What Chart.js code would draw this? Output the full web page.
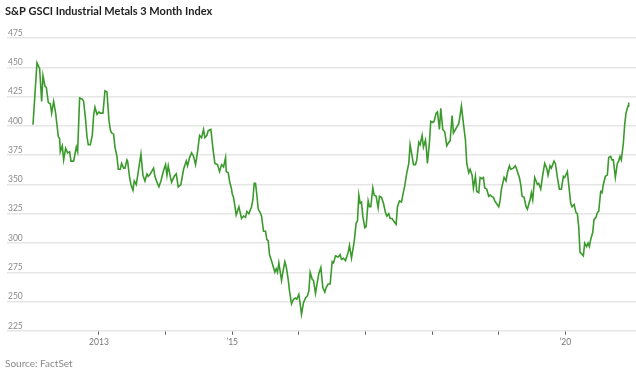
<!DOCTYPE html>
<html lang="en">
<head>
    <meta charset="UTF-8">
    <title>S&amp;P GSCI Industrial Metals 3 Month Index</title>
    <style>
        body {
            margin: 0;
            padding: 0;
            background-color: #fff;
        }
    </style>
    <script src="https://cdn.jsdelivr.net/npm/chart.js"></script>
</head>
<body>
    <canvas id="metalsChart" width="636" height="374"></canvas>

    <script>
        // dates as fractional years
        const years = [
            2012.01, 2012.07, 2012.11, 2012.14, 2012.16, 2012.19, 2012.21, 2012.24, 2012.27, 2012.29,
            2012.32, 2012.35, 2012.39, 2012.41, 2012.42, 2012.45, 2012.47, 2012.50, 2012.53, 2012.56,
            2012.58, 2012.62, 2012.66, 2012.68, 2012.71, 2012.75, 2012.77, 2012.80, 2012.82, 2012.84,
            2012.87, 2012.90, 2012.92, 2012.94, 2012.97, 2013.00, 2013.02, 2013.06, 2013.09, 2013.12,
            2013.15, 2013.17, 2013.19, 2013.22, 2013.24, 2013.27, 2013.29, 2013.32, 2013.34, 2013.37,
            2013.39, 2013.42, 2013.43, 2013.46, 2013.48, 2013.51, 2013.53, 2013.56, 2013.59, 2013.63,
            2013.66, 2013.69, 2013.72, 2013.74, 2013.77, 2013.79, 2013.82, 2013.84, 2013.87, 2013.90,
            2013.93, 2013.97, 2014.00, 2014.02, 2014.04, 2014.07, 2014.09, 2014.13, 2014.16, 2014.19,
            2014.23, 2014.27, 2014.31, 2014.33, 2014.36, 2014.39, 2014.42, 2014.45, 2014.48, 2014.51,
            2014.54, 2014.57, 2014.59, 2014.62, 2014.64, 2014.68, 2014.71, 2014.74, 2014.78, 2014.81,
            2014.84, 2014.87, 2014.90, 2014.91, 2014.94, 2014.96, 2014.99, 2015.00, 2015.02, 2015.06,
            2015.10, 2015.14, 2015.17, 2015.20, 2015.22, 2015.25, 2015.29, 2015.31, 2015.33, 2015.35,
            2015.37, 2015.39, 2015.42, 2015.44, 2015.47, 2015.50, 2015.52, 2015.54, 2015.56, 2015.60,
            2015.64, 2015.66, 2015.68, 2015.70, 2015.74, 2015.76, 2015.79, 2015.81, 2015.84, 2015.86,
            2015.89, 2015.92, 2015.95, 2015.97, 2016.00, 2016.02, 2016.04, 2016.07, 2016.10, 2016.13,
            2016.15, 2016.17, 2016.20, 2016.22, 2016.25, 2016.27, 2016.30, 2016.33, 2016.36, 2016.39,
            2016.41, 2016.44, 2016.47, 2016.50, 2016.52, 2016.55, 2016.59, 2016.62, 2016.64, 2016.67,
            2016.70, 2016.74, 2016.76, 2016.79, 2016.83, 2016.86, 2016.88, 2016.90, 2016.92, 2016.94,
            2016.96, 2016.99, 2017.01, 2017.04, 2017.06, 2017.08, 2017.11, 2017.13, 2017.16, 2017.19,
            2017.21, 2017.24, 2017.27, 2017.30, 2017.32, 2017.35, 2017.37, 2017.40, 2017.42, 2017.46,
            2017.48, 2017.51, 2017.54, 2017.56, 2017.59, 2017.62, 2017.65, 2017.67, 2017.70, 2017.72,
            2017.75, 2017.77, 2017.80, 2017.82, 2017.85, 2017.87, 2017.90, 2017.91, 2017.93, 2017.96,
            2017.98, 2018.01, 2018.03, 2018.06, 2018.08, 2018.11, 2018.13, 2018.16, 2018.19, 2018.22,
            2018.25, 2018.27, 2018.30, 2018.32, 2018.35, 2018.37, 2018.40, 2018.42, 2018.44, 2018.47,
            2018.50, 2018.52, 2018.55, 2018.57, 2018.60, 2018.62, 2018.65, 2018.67, 2018.70, 2018.72,
            2018.75, 2018.77, 2018.79, 2018.82, 2018.85, 2018.87, 2018.89, 2018.92, 2018.94, 2019.00,
            2019.02, 2019.04, 2019.08, 2019.11, 2019.13, 2019.16, 2019.18, 2019.22, 2019.25, 2019.28,
            2019.31, 2019.33, 2019.35, 2019.38, 2019.41, 2019.43, 2019.47, 2019.49, 2019.51, 2019.54,
            2019.58, 2019.60, 2019.63, 2019.66, 2019.69, 2019.72, 2019.74, 2019.77, 2019.79, 2019.83,
            2019.85, 2019.88, 2019.91, 2019.94, 2019.97, 2019.99, 2020.03, 2020.05, 2020.08, 2020.10,
            2020.13, 2020.16, 2020.18, 2020.20, 2020.22, 2020.24, 2020.27, 2020.29, 2020.32, 2020.34,
            2020.36, 2020.38, 2020.41, 2020.43, 2020.46, 2020.48, 2020.50, 2020.53, 2020.55, 2020.57,
            2020.60, 2020.63, 2020.65, 2020.68, 2020.70, 2020.72, 2020.75, 2020.78, 2020.80, 2020.82,
            2020.84, 2020.87, 2020.89, 2020.91, 2020.94, 2020.95
        ];

        const values = [
            401, 454, 449, 421, 443, 434, 433, 420, 419, 411,
            421, 411, 391, 389, 378, 383, 371, 381, 377, 378,
            370, 370, 382, 378, 424, 423, 421, 405, 391, 384,
            384, 392, 409, 416, 410, 412, 411, 411, 430, 429,
            405, 397, 394, 393, 382, 374, 363, 363, 368, 364,
            364, 371, 370, 356, 350, 345, 353, 350, 361, 376,
            358, 353, 359, 357, 359, 361, 364, 357, 352, 348,
            353, 362, 367, 358, 366, 357, 352, 357, 359, 348,
            350, 363, 370, 366, 373, 377, 374, 367, 378, 392,
            390, 397, 390, 392, 396, 397, 381, 368, 367, 361,
            367, 365, 373, 361, 360, 353, 346, 342, 339, 324,
            331, 321, 323, 322, 327, 325, 331, 337, 351, 351,
            341, 329, 326, 323, 310, 310, 303, 302, 290, 283,
            275, 278, 275, 283, 268, 275, 284, 280, 269, 259,
            248, 252, 253, 252, 256, 248, 239, 249, 253, 255,
            259, 275, 269, 268, 257, 264, 274, 279, 262, 258,
            262, 265, 265, 284, 283, 289, 288, 290, 286, 287,
            285, 292, 298, 287, 301, 317, 319, 341, 334, 335,
            323, 313, 314, 336, 331, 331, 347, 341, 340, 330,
            340, 339, 334, 326, 323, 325, 321, 321, 319, 316,
            331, 336, 335, 341, 349, 360, 368, 384, 374, 367,
            367, 371, 386, 384, 392, 382, 388, 383, 368, 386,
            404, 403, 404, 411, 412, 397, 415, 397, 395, 383,
            386, 387, 409, 394, 397, 399, 402, 409, 417, 402,
            388, 368, 360, 363, 358, 347, 357, 344, 343, 356,
            355, 356, 347, 346, 340, 341, 340, 339, 336, 331,
            336, 346, 356, 353, 360, 366, 363, 364, 366, 361,
            356, 350, 340, 339, 331, 329, 337, 343, 337, 356,
            350, 351, 346, 358, 368, 364, 358, 366, 364, 370,
            368, 356, 346, 346, 357, 356, 361, 350, 334, 331,
            333, 326, 325, 314, 292, 291, 289, 300, 297, 300,
            297, 303, 309, 320, 322, 326, 327, 344, 343, 350,
            357, 358, 373, 374, 371, 371, 356, 368, 370, 374,
            371, 385, 401, 411, 417, 420
        ];

        const xTickYears = [2013, 2014, 2015, 2016, 2017, 2018, 2019, 2020];
        const xTickLabels = ["2013", "", "\u201915", "", "", "", "", "\u201920"];
        const yTickValues = [225, 250, 275, 300, 325, 350, 375, 400, 425, 450, 475];

        const points = years.map((yr, i) => ({ x: yr, y: values[i] }));

        const ctx = document.getElementById("metalsChart").getContext("2d");
        const metalsChart = new Chart(ctx, {
            type: "line",
            data: {
                datasets: [
                    {
                        label: "S&P GSCI Industrial Metals 3 Month Index",
                        data: points,
                        borderColor: "#3b9a2c",
                        borderWidth: 1.6,
                        pointRadius: 0,
                        fill: false,
                        tension: 0,
                    },
                ],
            },
            options: {
                responsive: false,
                animation: false,
                layout: {
                    padding: { left: 5, right: 0, top: 0, bottom: 4 },
                },
                plugins: {
                    legend: { display: false },
                    tooltip: { enabled: false },
                    title: {
                        display: true,
                        text: "S&P GSCI Industrial Metals 3 Month Index",
                        align: "start",
                        color: "#222",
                        font: { family: "Lato", size: 11, weight: "bold" },
                        padding: { top: 5, bottom: 20 },
                    },
                    subtitle: {
                        display: true,
                        position: "bottom",
                        text: "Source: FactSet",
                        align: "start",
                        color: "#8a8a8a",
                        font: { family: "Lato", size: 10 },
                        padding: { top: 9, bottom: 0 },
                    },
                },
                scales: {
                    x: {
                        type: "linear",
                        min: 2011.62,
                        max: 2021.06,
                        afterBuildTicks: (scale) => {
                            scale.ticks = xTickYears.map((v) => ({ value: v }));
                        },
                        ticks: {
                            autoSkip: false,
                            maxRotation: 0,
                            color: "#777",
                            font: { family: "Lato", size: 8.5 },
                            padding: 2,
                            callback: (value, index) => xTickLabels[index],
                        },
                        grid: {
                            drawOnChartArea: false,
                            drawTicks: true,
                            tickLength: 4,
                            color: "#666",
                        },
                        border: { display: false },
                    },
                    y: {
                        type: "linear",
                        min: 225,
                        max: 475,
                        afterBuildTicks: (scale) => {
                            scale.ticks = yTickValues.map((v) => ({ value: v }));
                        },
                        ticks: {
                            mirror: true,
                            padding: 1,
                            labelOffset: -5,
                            color: "#8a8a8a",
                            font: { family: "Lato", size: 8.5 },
                        },
                        grid: {
                            drawTicks: false,
                            color: "#e6e6e6",
                            lineWidth: 1.5,
                        },
                        border: { display: false },
                    },
                },
            },
        });
    </script>
</body>
</html>
